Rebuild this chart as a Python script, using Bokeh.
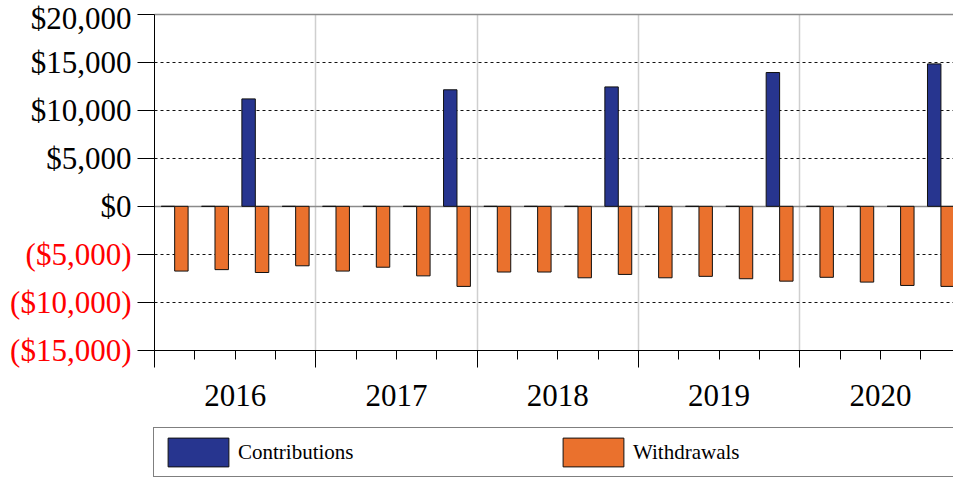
import numpy as np
from bokeh.plotting import figure
from bokeh.models import (FixedTicker, Legend, LegendItem, Range1d, ColumnDataSource,
                          LinearAxis, Grid)
from bokeh.embed import file_html
from bokeh.resources import INLINE

# ---- data ----
years = ["2016", "2017", "2018", "2019", "2020"]
quarters = ["Q1", "Q2", "Q3", "Q4"]
contributions = [0, 0, 11200, 0,
                 0, 0, 0, 12150,
                 0, 0, 0, 12450,
                 0, 0, 0, 13950,
                 0, 0, 0, 14850]
withdrawals = [-6750, -6600, -6900, -6200,
               -6750, -6350, -7250, -8350,
               -6850, -6850, -7450, -7100,
               -7450, -7300, -7550, -7800,
               -7400, -7900, -8250, -8350]
y_ticks = [-15000, -10000, -5000, 0, 5000, 10000, 15000, 20000]
y_tick_labels = ["($15,000)", "($10,000)", "($5,000)", "$0",
                 "$5,000", "$10,000", "$15,000", "$20,000"]

FONT = "Liberation Serif"
BLUE = "#27358F"
ORANGE = "#EA712D"

# ---- layout (pixels) ----
W, H = 953, 478
PLOT_L, PLOT_T, PLOT_B = 154, 14, 349.7
QW = 40.33                       # px per quarter
y_lo, y_hi = y_ticks[0], y_ticks[-1]
PPU = (PLOT_B - PLOT_T) / (y_hi - y_lo)   # px per dollar
x_end = (W - PLOT_L) / QW

n_q = len(years) * len(quarters)
idx = np.arange(n_q)
bar_w = 1 / 3
src = ColumnDataSource(dict(
    xc=idx + 0.5 - bar_w / 2,
    xw=idx + 0.5 + bar_w / 2,
    contrib=contributions,
    withdr=withdrawals,
))

p = figure(width=W, height=H, output_backend="svg", toolbar_location=None,
           x_range=Range1d(-PLOT_L / QW, x_end),
           y_range=Range1d(y_lo - (H - PLOT_B) / PPU, y_hi + PLOT_T / PPU),
           x_axis_type=None, y_axis_type=None,
           min_border_left=0, min_border_right=0, min_border_top=0, min_border_bottom=0)
p.outline_line_color = None
p.background_fill_color = "white"
p.border_fill_color = "white"

HAS_CB = "cross_bounds" in Grid.properties()


def add_lines(dim, ticks, color, width, dash="solid"):
    if HAS_CB:
        cb = (0, x_end) if dim == 1 else (y_lo, y_hi)
        p.add_layout(Grid(dimension=dim, ticker=FixedTicker(ticks=ticks), cross_bounds=cb,
                          grid_line_color=color, grid_line_width=width,
                          grid_line_dash=dash), "center")
    else:
        t = np.asarray(ticks, dtype=float)
        if dim == 1:
            p.segment(x0=0, x1=x_end, y0=t, y1=t, line_color=color,
                      line_width=width, line_dash=dash, level="underlay")
        else:
            p.segment(x0=t, x1=t, y0=y_lo, y1=y_hi, line_color=color,
                      line_width=width, line_dash=dash, level="underlay")


# grid lines
add_lines(0, [4 * i for i in range(1, len(years))], "#cfcfcf", 1.5)
add_lines(1, [t for t in y_ticks if t not in (0, y_lo, y_hi)], "#111111", 1, "3 3")
add_lines(1, [0], "#8a8a8a", 1.5)
add_lines(1, [y_hi], "#8a8a8a", 1.5)

rc = p.vbar(x="xc", top="contrib", bottom=0, width=bar_w, source=src,
            fill_color=BLUE, line_color="#111111", line_width=1)
rw = p.vbar(x="xw", top=0, bottom="withdr", width=bar_w, source=src,
            fill_color=ORANGE, line_color="#111111", line_width=1)


def quiet(ax):
    ax.axis_line_color = None
    ax.major_tick_line_color = None
    ax.minor_tick_line_color = None
    ax.major_tick_out = 0
    ax.major_tick_in = 0
    ax.minor_tick_out = 0
    ax.minor_tick_in = 0


# y axis: line, ticks and the black (positive) labels
ya = LinearAxis(fixed_location=0, bounds=(y_lo, y_hi), ticker=FixedTicker(ticks=y_ticks),
                major_label_overrides={t: (lab if t >= 0 else "")
                                       for t, lab in zip(y_ticks, y_tick_labels)})
ya.major_label_text_font = FONT
ya.major_label_text_font_size = "31px"
ya.major_label_text_color = "black"
ya.major_tick_out = 17
ya.major_tick_in = 0
ya.minor_tick_out = 0
ya.minor_tick_in = 0
ya.major_label_standoff = 6
ya.axis_line_color = "black"
ya.major_tick_line_color = "black"
p.add_layout(ya, "left")

# red (negative) labels
ya_neg = LinearAxis(fixed_location=0, bounds=(y_lo, y_hi), ticker=FixedTicker(ticks=y_ticks),
                    major_label_overrides={t: (lab if t < 0 else "")
                                           for t, lab in zip(y_ticks, y_tick_labels)})
quiet(ya_neg)
ya_neg.major_label_standoff = 23
ya_neg.major_label_text_font = FONT
ya_neg.major_label_text_font_size = "31px"
ya_neg.major_label_text_color = "red"
p.add_layout(ya_neg, "left")

# x axis: quarter / year tick marks
q_edges = list(range(n_q + 1))
xa = LinearAxis(fixed_location=y_lo, bounds=(0, x_end),
                ticker=FixedTicker(ticks=[4 * i for i in range(len(years) + 1)],
                                   minor_ticks=q_edges),
                major_label_overrides={4 * i: "" for i in range(len(years) + 1)})
xa.major_tick_out = 17
xa.major_tick_in = 0
xa.minor_tick_out = 9
xa.minor_tick_in = 0
xa.axis_line_color = "black"
xa.major_tick_line_color = "black"
xa.minor_tick_line_color = "black"
p.add_layout(xa, "below")

# year labels centred on each year
year_centers = [4 * i + 2 for i in range(len(years))]
xa2 = LinearAxis(fixed_location=y_lo, ticker=FixedTicker(ticks=year_centers),
                 major_label_overrides={c: y for c, y in zip(year_centers, years)})
quiet(xa2)
xa2.major_label_standoff = 35
xa2.major_label_text_font = FONT
xa2.major_label_text_font_size = "31px"
xa2.major_label_text_color = "black"
p.add_layout(xa2, "below")

legend = Legend(items=[LegendItem(label="Contributions", renderers=[rc]),
                       LegendItem(label="Withdrawals", renderers=[rw])],
                orientation="horizontal", location=(PLOT_L - 1, 1),
                glyph_width=76, glyph_height=36, label_standoff=2,
                label_width=316, spacing=1, padding=6, margin=0,
                border_line_color="black", border_line_width=1,
                background_fill_color="white", background_fill_alpha=1,
                label_text_font=FONT, label_text_font_size="21px",
                label_text_color="black")
p.add_layout(legend, "center")

open("out.html", "w").write(file_html(p, INLINE))
